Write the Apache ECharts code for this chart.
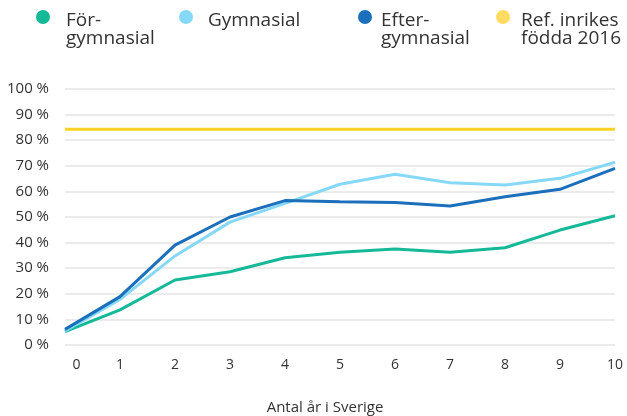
<!DOCTYPE html>
<html>
<head>
<meta charset="utf-8">
<script src="https://cdn.jsdelivr.net/npm/echarts@6/dist/echarts.min.js"></script>
<style>
html, body { margin: 0; padding: 0; background: #fff; }
#main { width: 627px; height: 416px; }
</style>
</head>
<body>
<div id="main"></div>
<script>
var years = ['0', '1', '2', '3', '4', '5', '6', '7', '8', '9', '10'];
var forgymnasial = [5.2, 13.7, 25.4, 28.6, 34.1, 36.2, 37.5, 36.2, 38, 44.9, 50.5];
var gymnasial = [5.5, 17.8, 34.8, 48, 55.3, 62.8, 66.7, 63.4, 62.5, 65.1, 71.4];
var eftergymnasial = [6.1, 18.9, 39, 50, 56.4, 56, 55.7, 54.3, 57.9, 60.8, 69];
var refInrikes = [84.3, 84.3, 84.3, 84.3, 84.3, 84.3, 84.3, 84.3, 84.3, 84.3, 84.3];

var names = ['För-\ngymnasial', 'Gymnasial', 'Efter-\ngymnasial', 'Ref. inrikes\nfödda 2016'];
var colors = ['#15b997', '#86d8f7', '#1b6fbb', '#fdd323'];
var legendColors = ['#15b997', '#86d8f7', '#1b6fbb', '#ffdb62'];
var values = [forgymnasial, gymnasial, eftergymnasial, refInrikes];

var myChart = echarts.init(document.getElementById('main'));

// each legend item on its own; a blank rich line on top pushes the text down
// so the icon sits level with the first text line
var legendLeft = [36, 179, 358, 496];
var legendPad = [11, 10, 4, 6];
var legends = [];
for (var i = 0; i < names.length; i++) {
	var twoLines = names[i].indexOf('\n') > -1;
	var sp = twoLines ? 26 : 8;
	var blockH = sp + (twoLines ? 36 : 18);
	legends.push({
		data: [names[i]],
		left: legendLeft[i],
		top: Math.round(16.7 - blockH / 2),
		padding: 0,
		icon: 'circle',
		itemWidth: 14,
		itemHeight: 14,
		align: 'left',
		formatter: (function (h) {
			return function (name) {
				return '{sp' + h + '| }\n' + name;
			};
		})(sp),
		textStyle: {
			fontFamily: 'Open Sans',
			fontSize: 19,
			lineHeight: 18,
			color: '#333',
			padding: [0, 0, 0, legendPad[i]],
			rich: {
				sp26: { lineHeight: 26, fontSize: 1 },
				sp8: { lineHeight: 8, fontSize: 1 }
			}
		}
	});
}

var series = [];
for (var j = 0; j < names.length; j++) {
	series.push({
		name: names[j],
		type: 'line',
		data: values[j],
		showSymbol: false,
		symbol: 'circle',
		itemStyle: { color: legendColors[j] },
		lineStyle: { color: colors[j], width: 3 },
		z: j == 3 ? 1 : 2 + j
	});
}

var option = {
	backgroundColor: '#fff',
	animation: false,
	legend: legends,
	grid: {
		left: 65,
		right: 12,
		top: 89,
		bottom: 71,
		outerBoundsMode: 'none'
	},
	xAxis: {
		type: 'category',
		data: years,
		boundaryGap: false,
		axisLine: { show: false },
		axisTick: { show: false },
		axisLabel: {
			interval: 0,
			margin: 13,
			fontFamily: 'Open Sans',
			fontSize: 14,
			color: '#333',
			formatter: function (v, idx) {
				return idx === 0 ? '{first|' + v + '}' : v;
			},
			rich: {
				first: {
					fontFamily: 'Open Sans',
					fontSize: 14,
					color: '#333',
					padding: [0, 0, 0, 23]
				}
			}
		},
		name: 'Antal år i Sverige',
		nameLocation: 'middle',
		nameGap: 55,
		nameTextStyle: {
			fontFamily: 'Open Sans',
			fontSize: 15,
			color: '#333',
			padding: [0, 30, 0, 0]
		}
	},
	yAxis: {
		type: 'value',
		min: 0,
		max: 100,
		interval: 10,
		axisLine: { show: false },
		axisTick: { show: false },
		axisLabel: {
			formatter: '{value} %',
			margin: 16,
			fontFamily: 'Open Sans',
			fontSize: 15,
			color: '#333',
			padding: [0, 0, 4, 0]
		},
		splitLine: {
			lineStyle: { color: '#ebebeb', width: 2 }
		}
	},
	series: series
};

myChart.setOption(option);
</script>
</body>
</html>
